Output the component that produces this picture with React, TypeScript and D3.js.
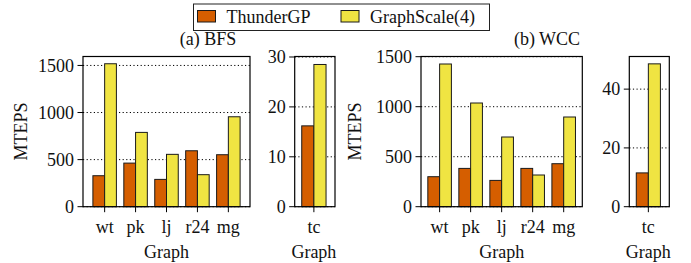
import React from 'react';
import * as d3 from 'd3';

// values
const mainGraphs = ['wt', 'pk', 'lj', 'r24', 'mg'];
const tcGraphs = ['tc'];

const bfsThunderGP = [329, 463, 290, 594, 552];
const bfsGraphScale = [1518, 789, 556, 340, 955];
const wccThunderGP = [300, 383, 263, 383, 430];
const wccGraphScale = [1427, 1037, 697, 317, 897];

const bfsTcThunderGP = [16.2];
const bfsTcGraphScale = [28.5];
const wccTcThunderGP = [11.5];
const wccTcGraphScale = [48.6];

const mainTicks = [0, 500, 1000, 1500];
const bfsTcTicks = [0, 10, 20, 30];
const wccTcTicks = [0, 20, 40];

const seriesNames = ['ThunderGP', 'GraphScale(4)'];
const colors = ['#d55e00', '#f0e442'];

const FONT = 'Liberation Serif';
const FS = 18;
const TOP = 56.5;
const BOTTOM = 206.7;
const BAR_W = 0.38;

type PanelProps = {
  left: number;
  right: number;
  yMax: number;
  ticks: number[];
  cats: string[];
  a: number[];
  b: number[];
  xDomain: [number, number];
};

const Panel = ({ left, right, yMax, ticks, cats, a, b, xDomain }: PanelProps) => {
  const x = d3.scaleLinear().domain(xDomain).range([left, right]);
  const y = d3.scaleLinear().domain([0, yMax]).range([BOTTOM, TOP]);
  const bw = x(BAR_W) - x(0);
  const mid = (x(0) + x(cats.length - 1)) / 2;
  return (
    <g>
      {/* grid */}
      {ticks.map((t) => (
        <line key={'g' + t} x1={left} x2={right} y1={y(t)} y2={y(t)}
          stroke="#000" strokeWidth={1} strokeDasharray="1.2,2.4" />
      ))}
      {/* bars */}
      {cats.map((c, i) => (
        <g key={c}>
          <rect x={x(i) - bw} y={y(a[i])} width={bw} height={BOTTOM - y(a[i])}
            fill={colors[0]} stroke="#1a1a1a" strokeWidth={1} />
          <rect x={x(i)} y={y(b[i])} width={bw} height={BOTTOM - y(b[i])}
            fill={colors[1]} stroke="#1a1a1a" strokeWidth={1} />
        </g>
      ))}
      {/* frame */}
      <rect x={left} y={TOP} width={right - left} height={BOTTOM - TOP}
        fill="none" stroke="#000" strokeWidth={1.2} />
      {/* y ticks */}
      {ticks.map((t) => (
        <g key={'t' + t}>
          <line x1={left - 5.5} x2={left} y1={y(t)} y2={y(t)} stroke="#000" strokeWidth={1} />
          <text x={left - 9} y={y(t)} dy="0.34em" textAnchor="end"
            fontFamily={FONT} fontSize={FS} fill="#111">{t}</text>
        </g>
      ))}
      {/* x ticks */}
      {cats.map((c, i) => (
        <g key={'x' + c}>
          <line x1={x(i)} x2={x(i)} y1={BOTTOM} y2={BOTTOM + 5.5} stroke="#000" strokeWidth={1} />
          <text x={x(i)} y={233} textAnchor="middle" fontFamily={FONT} fontSize={FS} fill="#111">{c}</text>
        </g>
      ))}
      <text x={mid} y={258} textAnchor="middle" fontFamily={FONT} fontSize={FS} fill="#111">Graph</text>
    </g>
  );
};

const YLabel = ({ cx }: { cx: number }) => (
  <text transform={`translate(${cx},131.5) rotate(-90)`} textAnchor="middle" dy="0.34em"
    fontFamily={FONT} fontSize={FS} fill="#111">MTEPS</text>
);

export default function App() {
  return (
    <svg width={691} height={263} style={{ position: 'absolute', left: 0, top: 0, background: '#fff' }}>
      {/* legend */}
      <rect x={193.5} y={4} width={296} height={26.5} fill="#fff" stroke="#222" strokeWidth={1} />
      <rect x={197.5} y={10.5} width={18} height={11.5} fill={colors[0]} stroke="#1a1a1a" strokeWidth={1} />
      <text x={226.5} y={23} fontFamily={FONT} fontSize={FS} fill="#111">{seriesNames[0]}</text>
      <rect x={341} y={10.5} width={18} height={11.5} fill={colors[1]} stroke="#1a1a1a" strokeWidth={1} />
      <text x={370} y={23} fontFamily={FONT} fontSize={FS} fill="#111">{seriesNames[1]}</text>

      <text x={208} y={45} textAnchor="middle" fontFamily={FONT} fontSize={FS} fill="#111">(a) BFS</text>
      <text x={547} y={45} textAnchor="middle" fontFamily={FONT} fontSize={FS} fill="#111">(b) WCC</text>

      <YLabel cx={21} />
      <YLabel cx={355} />

      <Panel left={83} right={250} yMax={1595} ticks={mainTicks} cats={mainGraphs}
        a={bfsThunderGP} b={bfsGraphScale} xDomain={[-0.7, 4.7]} />
      <Panel left={294.7} right={335} yMax={30.1} ticks={bfsTcTicks} cats={tcGraphs}
        a={bfsTcThunderGP} b={bfsTcGraphScale} xDomain={[-0.6, 0.66]} />
      <Panel left={421} right={582.3} yMax={1502} ticks={mainTicks} cats={mainGraphs}
        a={wccThunderGP} b={wccGraphScale} xDomain={[-0.6, 4.6]} />
      <Panel left={629.3} right={669.3} yMax={51.1} ticks={wccTcTicks} cats={tcGraphs}
        a={wccTcThunderGP} b={wccTcGraphScale} xDomain={[-0.6, 0.66]} />
    </svg>
  );
}
